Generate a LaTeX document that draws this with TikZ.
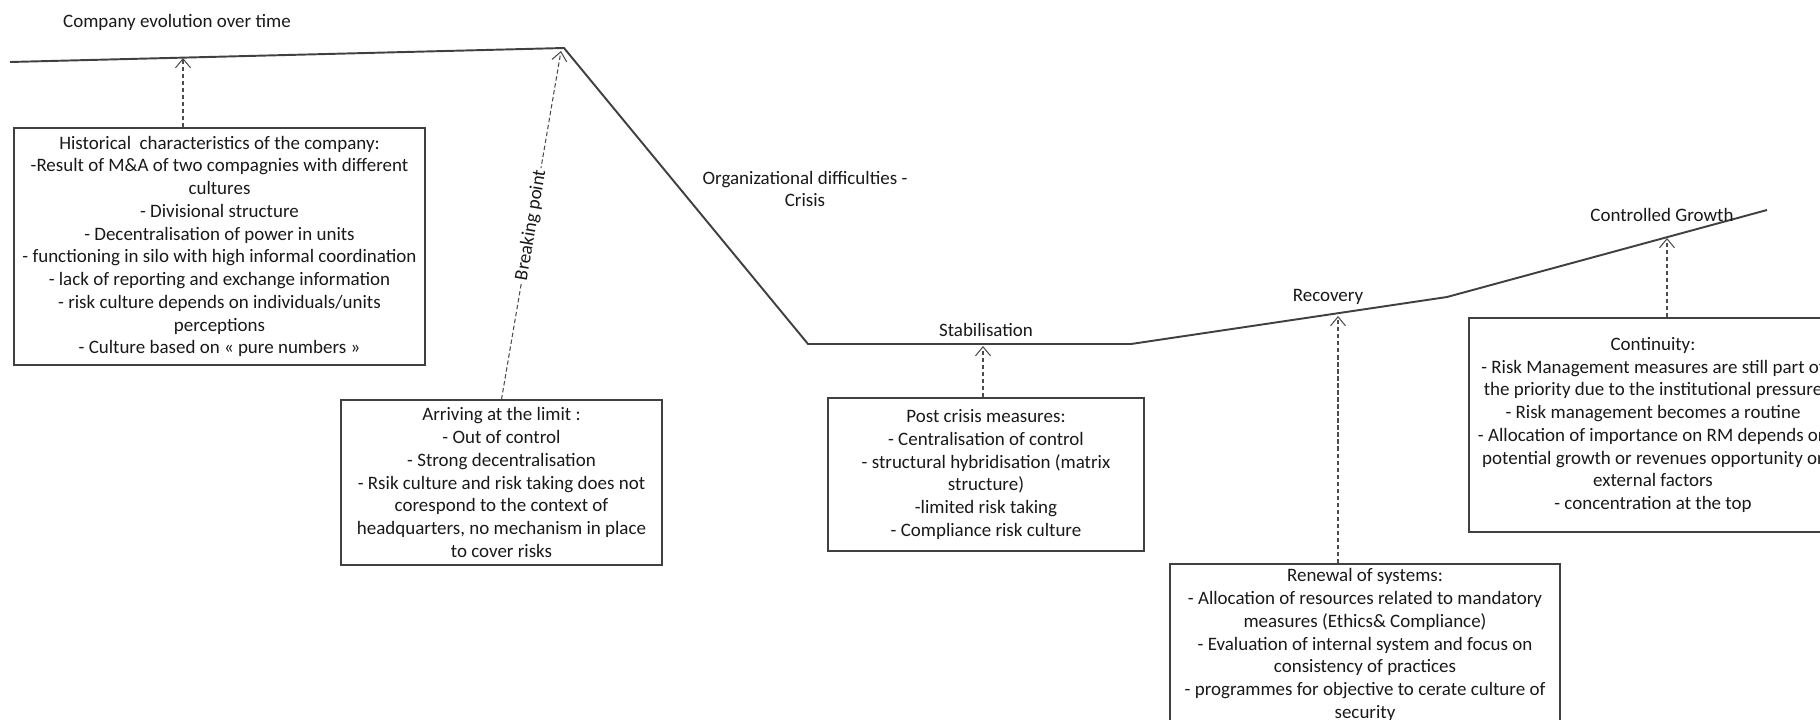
\documentclass[tikz,border=0pt]{standalone}
\usepackage{fontspec}
\setmainfont{Carlito}
\usepackage{tikz}
\usetikzlibrary{arrows.meta,positioning}

\tikzset{
  curve/.style={draw=black!75, line width=1.1pt, line join=miter},
  infobox/.style={draw=black!75, line width=0.8pt, align=center, inner sep=0pt,
    text=black!90, font=\fontsize{10.8}{12.95}\selectfont},
  phase/.style={align=center, text=black!90, font=\fontsize{10.8}{12.95}\selectfont},
  cause/.style={draw=black!70, line width=0.6pt, dash pattern=on 2.5pt off 1.5pt,
    -{Straight Barb[length=1.8mm,width=3mm]}},
}

\begin{document}
\begin{tikzpicture}[x=0.02cm, y=-0.02cm]
    \useasboundingbox (0,0) rectangle (1820,720);

    \coordinate (c0) at (10,62);
    \coordinate (c1) at (564,48);
    \coordinate (c2) at (808,344);
    \coordinate (c3) at (1131,344);
    \coordinate (c4) at (1447,297);
    \coordinate (c5) at (1767,210);

    \coordinate (t1) at (183,58);
    \coordinate (t2) at (561,51);
    \coordinate (t3) at (983,346);
    \coordinate (t4) at (1338,316);
    \coordinate (t5) at (1667,238);

    \draw[curve] (c0) -- (c1) -- (c2) -- (c3) -- (c4) -- (c5);

    \node[phase] (title) at (177,22) {Company evolution over time};
    \node[phase] (crisis) at (805,189) {Organizational difficulties -\\Crisis};
    \node[phase] (stab) at (986,330) {Stabilisation};
    \node[phase] (recov) at (1328,297) {Recovery};
    \node[phase] (growth) at (1662,215) {Controlled Growth};

    \node[infobox, minimum width=8.22cm, minimum height=4.74cm] (hist) at (219.5,246.5)
      {Historical\ \ characteristics of the company:\\
       -Result of M\&A of two compagnies with different\\
       cultures\\
       - Divisional structure\\
       - Decentralisation of power in units\\
       - functioning in silo with high informal coordination\\
       - lack of reporting and exchange information\\
       - risk culture depends on individuals/units\\
       perceptions\\
       - Culture based on « pure numbers »};
    \node[infobox, minimum width=6.42cm, minimum height=3.3cm] (limit) at (501.5,482.5)
      {Arriving at the limit :\\
       - Out of control\\
       - Strong decentralisation\\
       - Rsik culture and risk taking does not\\
       corespond to the context of\\
       headquarters, no mechanism in place\\
       to cover risks};
    \node[infobox, minimum width=6.32cm, minimum height=3.06cm] (post) at (986,474.5)
      {Post crisis measures:\\
       - Centralisation of control\\
       - structural hybridisation (matrix\\
       structure)\\
       -limited risk taking\\
       - Compliance risk culture};
    \node[infobox, minimum width=7.8cm, minimum height=3.24cm] (renew) at (1365,645)
      {Renewal of systems:\\
       - Allocation of resources related to mandatory\\
       measures (Ethics\& Compliance)\\
       - Evaluation of internal system and focus on\\
       consistency of practices\\
       - programmes for objective to cerate culture of\\
       security};
    \node[infobox, minimum width=7.36cm, minimum height=4.28cm] (cont) at (1653,425)
      {Continuity:\\
       - Risk Management measures are still part of\\
       the priority due to the institutional pressure\\
       - Risk management becomes a routine\\
       - Allocation of importance on RM depends on\\
       potential growth or revenues opportunity or\\
       external factors\\
       - concentration at the top};

    \draw[cause] (hist.north -| t1) -- (t1);
    \draw[cause] (limit.north) -- node[phase, sloped, fill=white, inner sep=1pt, pos=0.5] {Breaking point} (t2);
    \draw[cause] (post.north -| t3) -- (t3);
    \draw[cause] (renew.north -| t4) -- (t4);
    \draw[cause] (cont.north -| t5) -- (t5);
\end{tikzpicture}
\end{document}
